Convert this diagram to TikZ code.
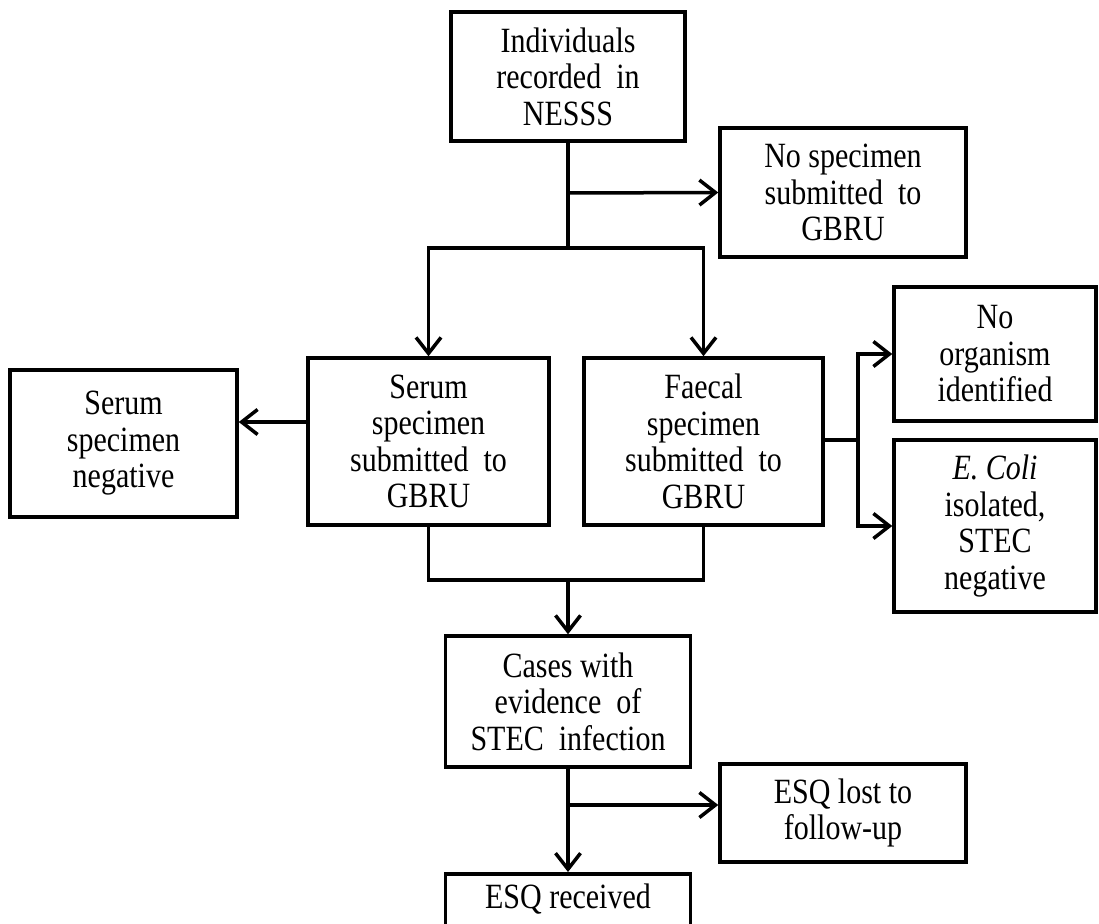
\documentclass[tikz,border=0pt]{standalone}
\usepackage{fontspec}
\setmainfont{Liberation Serif}[FakeStretch=0.845]
\usetikzlibrary{arrows.meta}
\begin{document}
\begin{tikzpicture}[x=1pt,y=-1pt,
  box/.style={draw, line width=3.5pt, align=center, inner sep=0pt, font=\fontsize{35.5}{36.5}\selectfont},
  conn/.style={line width=3.5pt},
  arr/.style={conn, -{Straight Barb[length=16pt,width=25pt]}}]
\useasboundingbox (0,0) rectangle (1099,923);
\fill[white] (0,0) rectangle (1099,923);
\clip (0,0) rectangle (1099,923);
% boxes
\node[box, minimum width=234pt, minimum height=129pt] (top) at (568,76.5) {Individuals\\recorded\ \ in\\NESSS};
\node[box, minimum width=246pt, minimum height=129pt] (nospec) at (843,192.5) {No specimen\\submitted\ \ to\\GBRU};
\node[box, minimum width=227pt, minimum height=147pt] (serneg) at (123.5,443.5) {Serum\\specimen\\negative};
\node[box, minimum width=241pt, minimum height=167pt] (sersub) at (428.5,441.5) {Serum\\specimen\\submitted\ \ to\\GBRU};
\node[box, minimum width=239pt, minimum height=167pt] (faecal) at (703.5,441.5) {Faecal\\specimen\\submitted\ \ to\\GBRU};
\node[box, minimum width=202pt, minimum height=134pt] (noorg) at (995,354) {No\\organism\\identified};
\node[box, minimum width=202pt, minimum height=172pt] (ecoli) at (995,526) {\textit{E. Coli}\\isolated,\\STEC\\negative};
\node[box, minimum width=245pt, minimum height=131pt] (cases) at (568,701.5) {Cases with\\evidence\ \ of\\STEC\ \ infection};
\node[box, minimum width=246pt, minimum height=98pt] (esqlost) at (843,813) {ESQ lost to\\follow-up};
\node[box, minimum width=245pt, anchor=north, inner ysep=8pt, text height=27pt, text depth=70pt] (esqrec) at (568,872) {ESQ received};
% junctions
\coordinate (j1) at (568,248);
\coordinate (j2) at (568,193);
\coordinate (fb) at (858,440);
\coordinate (j3) at (568,580);
\coordinate (j4) at (568,805);
% connectors
\draw[conn] (top.south) -- (j1);
\draw[arr] (j2) -- (nospec.west);
\draw[arr] (j1) -| (sersub.north);
\draw[arr] (j1) -| (faecal.north);
\draw[arr] (sersub.west |- 0,422) -- (serneg.east |- 0,422);
\draw[conn] (faecal.east |- fb) -- (fb);
\draw[arr] (fb) |- (noorg.west);
\draw[arr] (fb) |- (ecoli.west);
\draw[conn] (sersub.south) |- (j3);
\draw[conn] (faecal.south) |- (j3);
\draw[arr] (j3) -- (cases.north);
\draw[arr] (cases.south) -- (esqrec.north);
\draw[arr] (j4) -- (esqlost.west |- j4);
\end{tikzpicture}
\end{document}
